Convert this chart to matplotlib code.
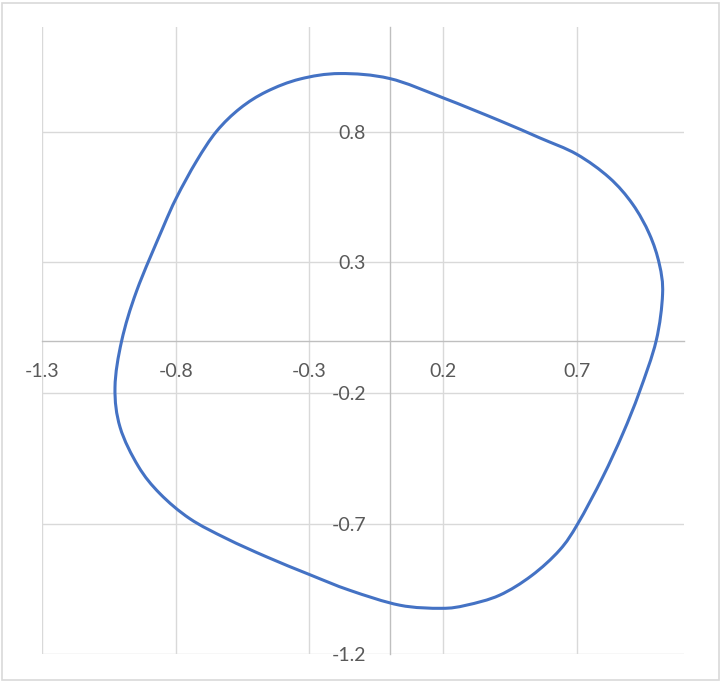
import matplotlib
matplotlib.use('Agg')
import matplotlib.pyplot as plt
from matplotlib.path import Path
from matplotlib.patches import PathPatch, Rectangle
import numpy as np

# points, going clockwise from the top
x_vals = [-0.186, 0.000, 0.200, 0.411, 0.561, 0.700, 0.822, 0.909, 0.972, 1.009,
          1.021, 0.997, 0.934, 0.872, 0.797, 0.704, 0.636, 0.531, 0.411, 0.287,
          0.194, 0.038, -0.149, -0.299, -0.460, -0.610, -0.747, -0.859, -0.940, -1.008,
          -1.027, -1.002, -0.946, -0.849, -0.797, -0.722, -0.647, -0.559, -0.460,
          -0.335]
y_vals = [1.023, 1.004, 0.930, 0.843, 0.777, 0.714, 0.624, 0.523, 0.408, 0.293,
          0.179, 0.000, -0.197, -0.356, -0.522, -0.700, -0.801, -0.899, -0.974, -1.012,
          -1.024, -1.012, -0.955, -0.895, -0.827, -0.757, -0.681, -0.585, -0.480, -0.331,
          -0.178, 0.000, 0.191, 0.430, 0.548, 0.688, 0.802, 0.890, 0.954,
          1.002]

x_ticks = [-1.3, -0.8, -0.3, 0.2, 0.7]
y_ticks = [-1.2, -0.7, -0.2, 0.3, 0.8]

line_color = '#4472C4'
grid_color = '#d9d9d9'
axis_color = '#bfbfbf'
text_color = '#595959'


def smooth_path(xs, ys):
    # closed Catmull-Rom curve written as cubic bezier segments (like Excel's smoothed line)
    pts = np.column_stack([xs, ys])
    n = len(pts)
    verts = [pts[0]]
    codes = [Path.MOVETO]
    for i in range(n):
        p0 = pts[(i - 1) % n]
        p1 = pts[i]
        p2 = pts[(i + 1) % n]
        p3 = pts[(i + 2) % n]
        c1 = p1 + (p2 - p0) / 6.0
        c2 = p2 - (p3 - p1) / 6.0
        verts += [c1, c2, p2]
        codes += [Path.CURVE4] * 3
    return Path(verts, codes)


plt.rcParams['font.family'] = ['Lato', 'DejaVu Sans']

fig = plt.figure(figsize=(7.22, 6.82), dpi=100)
ax = fig.add_axes([42 / 722, 1 - 654.3 / 682, 641.7 / 722, 627 / 682])

ax.set_xlim(-1.3, 1.1)
ax.set_ylim(-1.2, 1.2)

ax.set_xticks(x_ticks)
ax.set_yticks(y_ticks)
ax.set_xticklabels([str(v) for v in x_ticks])
ax.set_yticklabels([str(v) for v in y_ticks])
ax.grid(True, color=grid_color, linewidth=1.0)
ax.set_axisbelow(True)

# axes cross at the origin
ax.spines['left'].set_position(('data', 0))
ax.spines['bottom'].set_position(('data', 0))
ax.spines['top'].set_visible(False)
ax.spines['right'].set_visible(False)
for s in ['left', 'bottom']:
    ax.spines[s].set_color(axis_color)
    ax.spines[s].set_linewidth(1.0)

ax.tick_params(length=0, labelsize=14, labelcolor=text_color)
ax.tick_params(axis='x', pad=16)
ax.tick_params(axis='y', pad=17)

patch = PathPatch(smooth_path(x_vals, y_vals), fill=False, edgecolor=line_color,
                  linewidth=2.2, zorder=3)
ax.add_patch(patch)

# light border around the chart area
fig.patches.append(Rectangle((2 / 722, 2 / 682), 717 / 722, 677 / 682,
                             transform=fig.transFigure, fill=False,
                             edgecolor=grid_color, linewidth=1.2))

fig.savefig('out.png', dpi=100)
